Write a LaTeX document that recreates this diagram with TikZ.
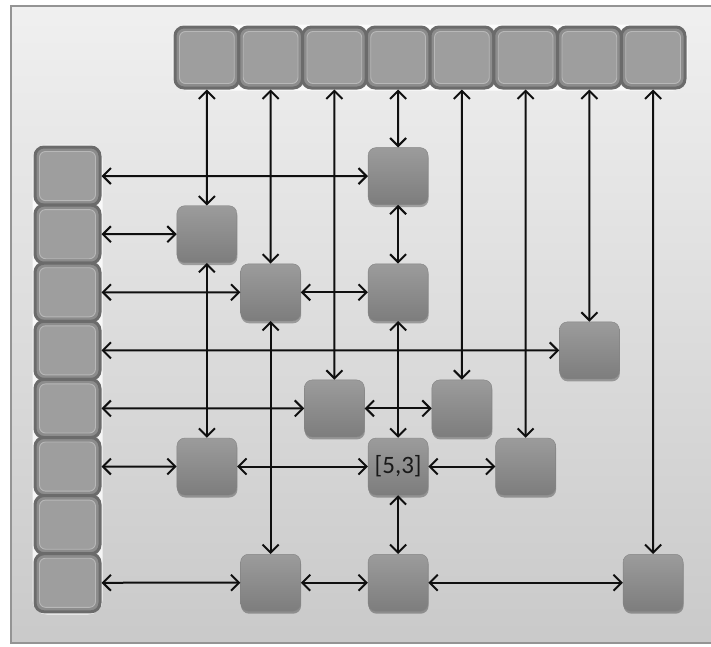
\documentclass[tikz,border=0pt]{standalone}
\usepackage{fontspec}
\setmainfont{Carlito}
\usetikzlibrary{arrows.meta,shadows}
\definecolor{rimc}{gray}{0.42}
\definecolor{bandc}{gray}{0.55}
\definecolor{lightc}{gray}{0.72}
\definecolor{cellfill}{gray}{0.62}
\definecolor{nodetop}{gray}{0.61}
\definecolor{nodebot}{gray}{0.49}
\definecolor{bgtop}{gray}{0.94}
\definecolor{bgbot}{gray}{0.79}
\definecolor{framec}{gray}{0.58}
\definecolor{linkc}{gray}{0.06}
\begin{document}
\begin{tikzpicture}[x=1pt,y=-1pt,
  cellbox/.style={rectangle, rounded corners=9pt, draw=rimc, line width=3pt,
    fill=bandc, inner sep=0pt,
    path picture={\draw[draw=lightc, line width=0.9pt, fill=cellfill, rounded corners=6pt]
      ([xshift=4.5pt,yshift=-4.5pt]path picture bounding box.north west) rectangle
      ([xshift=-4.5pt,yshift=4.5pt]path picture bounding box.south east);}},
  topcell/.style={cellbox, minimum width=63.75pt, minimum height=61pt},
  leftcell/.style={cellbox, minimum width=65pt, minimum height=58.1pt},
  nodebox/.style={rectangle, rounded corners=8pt, minimum width=60pt, minimum height=57pt,
    inner sep=0pt, top color=nodetop, bottom color=nodebot, draw=nodebot!95!white, line width=0.4pt,
    drop shadow={shadow xshift=0.5pt, shadow yshift=-2.5pt, opacity=0.3, fill=black},
    font=\fontsize{25}{30}\selectfont, text=black!90},
  link/.style={{Straight Barb[length=8pt,width=16pt]}-{Straight Barb[length=8pt,width=16pt]},
    draw=linkc, line width=2pt}
]
\useasboundingbox (0,0) rectangle (711,646);
% background frame
\draw[draw=framec, line width=1.6pt, top color=bgtop, bottom color=bgbot] (11,6) rectangle (714,643);
% halos behind the cell rows
\draw[white, line width=5pt, rounded corners=12pt, opacity=0.8] (175,27) rectangle (685,88);
\draw[white, line width=5pt, rounded corners=12pt, opacity=0.8] (35,147) rectangle (100,612);
% top row cells
\foreach \i in {1,...,8}{
  \node[topcell] (T\i) at ({175+63.75*(\i-0.5)},57.5) {};
}
% left column cells
\foreach \j in {1,...,8}{
  \node[leftcell] (L\j) at (67.5,{147+58.1*(\j-0.5)}) {};
}
% inner nodes
\node[nodebox] (A) at (398.1,176.1) {};
\node[nodebox] (B) at (206.9,234.2) {};
\node[nodebox] (C) at (270.6,292.3) {};
\node[nodebox] (D) at (398.1,292.3) {};
\node[nodebox] (E) at (589.4,350.4) {};
\node[nodebox] (F) at (334.4,408.4) {};
\node[nodebox] (G) at (461.9,408.4) {};
\node[nodebox] (H) at (206.9,466.5) {};
\node[nodebox] (K) at (398.1,466.5) {[5,3]};
\node[nodebox] (M) at (525.6,466.5) {};
\node[nodebox] (P) at (270.6,582.7) {};
\node[nodebox] (Q) at (398.1,582.7) {};
\node[nodebox] (R) at (653.1,582.7) {};
% vertical connectors
\draw[link] (T1) -- (B);
\draw[link] (B) -- (H);
\draw[link] (T2) -- (C);
\draw[link] (C) -- (P);
\draw[link] (T3) -- (F);
\draw[link] (T4) -- (A);
\draw[link] (A) -- (D);
\draw[link] (D) -- (K);
\draw[link] (K) -- (Q);
\draw[link] (T5) -- (G);
\draw[link] (T6) -- (M);
\draw[link] (T7) -- (E);
\draw[link] (T8) -- (R);
% horizontal connectors
\draw[link] (L1) -- (A);
\draw[link] (L2) -- (B);
\draw[link] (L3) -- (C);
\draw[link] (C) -- (D);
\draw[link] (L4) -- (E);
\draw[link] (L5) -- (F);
\draw[link] (F) -- (G);
\draw[link] (L6) -- (H);
\draw[link] (H) -- (K);
\draw[link] (K) -- (M);
\draw[link] (L8) -- (P);
\draw[link] (P) -- (Q);
\draw[link] (Q) -- (R);
\end{tikzpicture}
\end{document}
